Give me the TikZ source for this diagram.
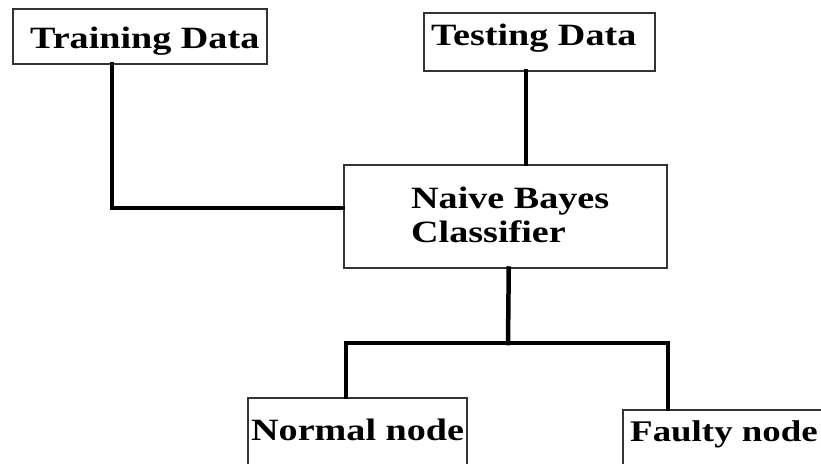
\documentclass[tikz,border=0pt]{standalone}
\usepackage{fontspec}
\setmainfont{Liberation Serif}[FakeStretch=1.23]
\begin{document}
\begin{tikzpicture}[x=1pt,y=-1pt,
  boxnode/.style={draw=black!80, line width=1.5pt, fill=white, rectangle, inner sep=0pt, anchor=north west},
  lbl/.style={anchor=base west, inner sep=0pt, font=\fontsize{31}{37}\selectfont\bfseries},
  conn/.style={line width=4.5pt, line cap=rect}]
\clip (0,0) rectangle (821,463);
\fill[white] (0,0) rectangle (821,463);
\coordinate (split) at (508,343);
% boxes
\node[boxnode, minimum width=254pt, minimum height=55pt] (train) at (12,8) {};
\node[boxnode, minimum width=231pt, minimum height=58pt] (test) at (423,12) {};
\node[boxnode, minimum width=323pt, minimum height=103pt] (nb) at (343,164) {};
\node[boxnode, minimum width=219pt, minimum height=80pt] (normal) at (247,397) {};
\node[boxnode, minimum width=220pt, minimum height=70pt] (faulty) at (622,409) {};
% connectors
\draw[conn] ([xshift=100pt]train.south west) |- ([yshift=8.5pt]nb.west);
\draw[conn] ([xshift=-13.5pt]test.south) -- ([xshift=-13.5pt]test.south |- nb.north);
\draw[conn] ([xshift=3.5pt]nb.south) -- (split);
\draw[conn] ([xshift=-11.5pt]normal.north) |- (split) -| ([xshift=46pt]faulty.north west);
% labels
\node[lbl] (tTrain) at (30,48) {Training Data};
\node[lbl] (tTest) at (431,45) {Testing Data};
\node[lbl] (tNB1) at (411,208) {Naive Bayes};
\node[lbl] (tNB2) at (411,242) {Classifier};
\node[lbl] (tNormal) at (251,440) {Normal node};
\node[lbl, font=\fontsize{30}{36}\selectfont\bfseries] (tFaulty) at (630,441) {Faulty node};
\end{tikzpicture}
\end{document}
